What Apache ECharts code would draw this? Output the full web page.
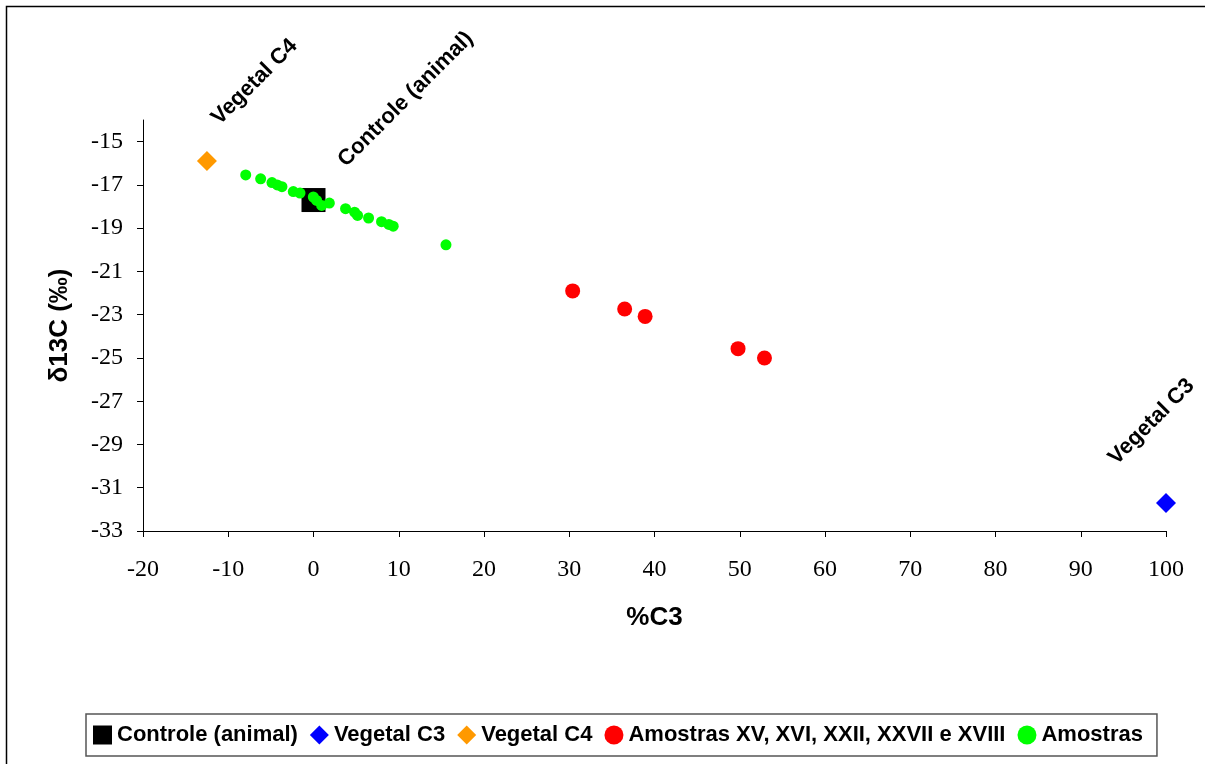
<!DOCTYPE html>
<html>
<head>
<meta charset="utf-8">
<script src="https://cdn.jsdelivr.net/npm/echarts@6/dist/echarts.min.js"></script>
<style>
html,body{margin:0;padding:0;background:#fff;}
#c{width:1205px;height:764px;}
</style>
</head>
<body>
<div id="c"></div>
<script>
// Data: [%C3, δ13C]
const controle = [[0, -17.7]];
const vegetalC3 = [[100, -31.7]];
const vegetalC4 = [[-12.5, -15.9]];
const amostrasRed = [[30.4, -21.9], [36.5, -22.74], [38.9, -23.08], [49.8, -24.57], [52.9, -25.0]];
const amostras = [
  [-7.95, -16.54], [-6.2, -16.72], [-4.87, -16.89], [-4.25, -17.0], [-3.7, -17.08],
  [-2.37, -17.31], [-1.58, -17.38], [-0.02, -17.56], [0.37, -17.72], [0.96, -17.95],
  [1.86, -17.84], [3.76, -18.1], [4.82, -18.26], [5.17, -18.41], [6.46, -18.53],
  [7.98, -18.7], [8.84, -18.83], [9.35, -18.91], [15.54, -19.77]
];
const yTicks = [-33, -31, -29, -27, -25, -23, -21, -19, -17, -15];
const names = ['Controle (animal)', 'Vegetal C3', 'Vegetal C4', 'Amostras XV, XVI, XXII, XXVII e XVIII', 'Amostras'];

const chart = echarts.init(document.getElementById('c'));
const tickFont = {fontFamily: 'Liberation Serif', fontSize: 24, color: '#000'};
const labelStyle = {fontFamily: 'Liberation Sans', fontWeight: 'bold', fontSize: 22, color: '#000', opacity: 1};

chart.setOption({
  animation: false,
  backgroundColor: '#fff',
  graphic: [{
    type: 'rect', shape: {x: 6.5, y: 6.5, width: 1210, height: 770},
    style: {fill: 'none', stroke: '#000', lineWidth: 1.5}, silent: true, z: -1
  }],
  grid: {left: 143, right: 39, top: 120, bottom: 233},
  xAxis: {
    type: 'value', min: -20, max: 100, interval: 10,
    name: '%C3', nameLocation: 'middle', nameGap: 74,
    nameTextStyle: {fontFamily: 'Liberation Sans', fontWeight: 'bold', fontSize: 26, color: '#000'},
    axisLine: {lineStyle: {color: '#000', width: 1}},
    axisTick: {show: true, length: 6, lineStyle: {color: '#000'}},
    axisLabel: Object.assign({margin: 27}, tickFont),
    splitLine: {show: false}
  },
  yAxis: {
    type: 'value', min: -33, max: -14, interval: 2,
    name: 'δ13C (‰)', nameLocation: 'middle', nameGap: 70, nameRotate: 90,
    nameTextStyle: {fontFamily: 'Liberation Sans', fontWeight: 'bold', fontSize: 26, color: '#000'},
    axisLine: {show: true, onZero: false, lineStyle: {color: '#000', width: 1}},
    axisTick: {show: true, length: 6, lineStyle: {color: '#000'}, customValues: yTicks},
    axisLabel: Object.assign({margin: 20, customValues: yTicks}, tickFont),
    splitLine: {show: false}
  },
  legend: {
    bottom: 8, left: 86,
    data: names,
    borderColor: '#555', borderWidth: 1.5, padding: [10, 14, 10, 7],
    itemGap: 12, itemWidth: 19, itemHeight: 19,
    textStyle: {fontFamily: 'Liberation Sans', fontWeight: 'bold', fontSize: 22, color: '#000'}
  },
  series: [
    {
      name: names[0], type: 'scatter', data: controle, symbol: 'rect', symbolSize: 24,
      itemStyle: {color: '#000', opacity: 1}, z: 2,
      label: Object.assign({show: true, formatter: 'Controle (animal)', rotate: 45, position: [48, -17], align: 'left', verticalAlign: 'bottom'}, labelStyle)
    },
    {
      name: names[1], type: 'scatter', data: vegetalC3, symbol: 'diamond', symbolSize: 20,
      itemStyle: {color: '#0000FF', opacity: 1},
      label: Object.assign({show: true, formatter: 'Vegetal C3', rotate: 45, position: [-36, -24], align: 'left', verticalAlign: 'bottom'}, labelStyle)
    },
    {
      name: names[2], type: 'scatter', data: vegetalC4, symbol: 'diamond', symbolSize: 20,
      itemStyle: {color: '#FF9900', opacity: 1},
      label: Object.assign({show: true, formatter: 'Vegetal C4', rotate: 45, position: [26, -22], align: 'left', verticalAlign: 'bottom'}, labelStyle)
    },
    {
      name: names[3], type: 'scatter', data: amostrasRed, symbol: 'circle', symbolSize: 15,
      itemStyle: {color: '#FF0000', opacity: 1}
    },
    {
      name: names[4], type: 'scatter', data: amostras, symbol: 'circle', symbolSize: 11,
      itemStyle: {color: '#00FF00', opacity: 1}, z: 3
    }
  ]
});
</script>
</body>
</html>
